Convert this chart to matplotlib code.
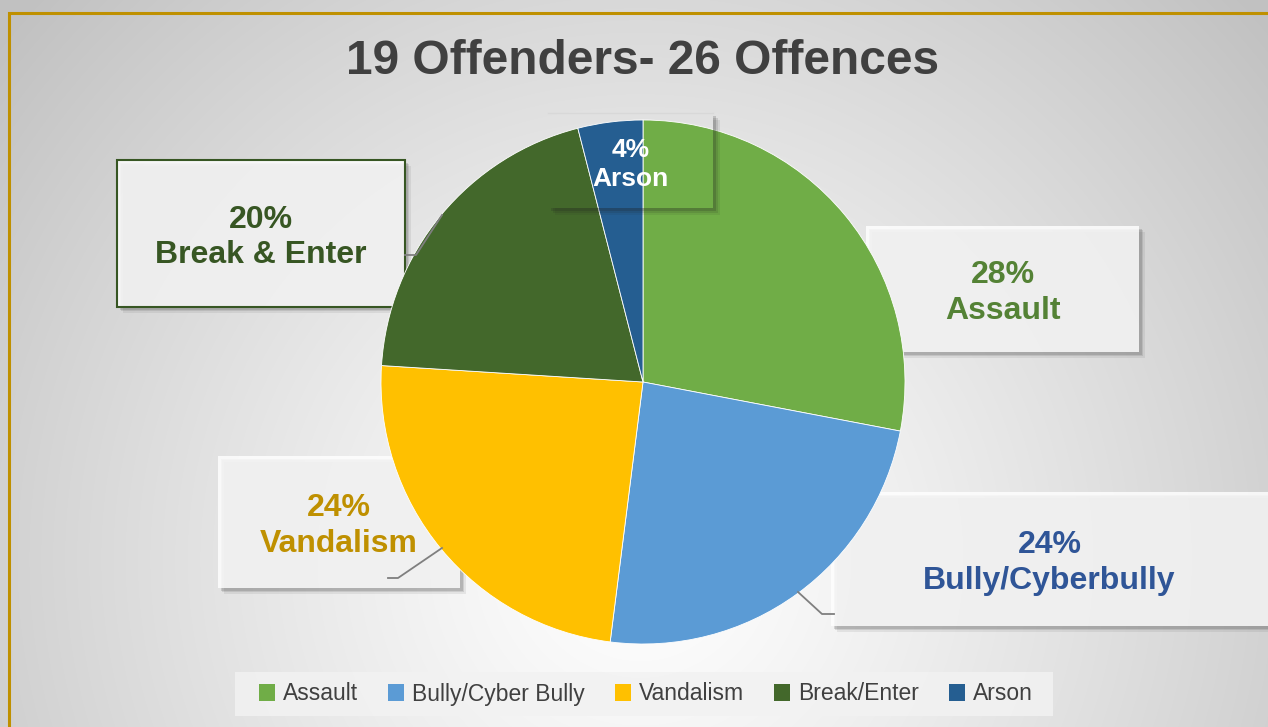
import numpy as np
import matplotlib.pyplot as plt
from matplotlib.patches import Rectangle

categories = ['Assault', 'Bully/Cyber Bully', 'Vandalism', 'Break/Enter', 'Arson']
values = [28, 24, 24, 20, 4]
colors = ['#70AD47', '#5B9BD5', '#FFC000', '#43682B', '#255E91']
box_names = ['Assault', 'Bully/Cyberbully', 'Vandalism', 'Break & Enter', 'Arson']
text_colors = ['#548235', '#2F5597', '#BF9000', '#375623', '#FFFFFF']

W, H = 1268, 727
fig = plt.figure(figsize=(W / 100, H / 100), dpi=100)
ax = fig.add_axes([0, 0, 1, 1])

# background radial gradient
yy, xx = np.mgrid[0:H, 0:W]
d = np.sqrt((xx - 640) ** 2 + ((H - yy) - 560) ** 2) / 820
g = 1.0 - 0.24 * np.clip(d, 0, 1) ** 1.2
ax.imshow(np.dstack([g, g, g]), extent=[0, W, 0, H], origin='lower', zorder=0)

# gold frame
ax.plot([9, 9, W], [0, H - 13, H - 13], color='#BF9000', lw=2.2, zorder=1,
        solid_capstyle='butt', solid_joinstyle='miter')

ax.text(643, H - 62, '19 Offenders- 26 Offences', ha='center', va='center',
        fontsize=34.5, fontweight='bold', color='#404040', family='Liberation Sans')

# label boxes (x0, y0, x1, y1 in pixel coords from top)
boxes = [(866, 226, 1139, 352), (831, 492, 1275, 626), (218, 456, 460, 588),
         (117, 160, 405, 307), (548, 113, 713, 208)]
for i, (x0, y0, x1, y1) in enumerate(boxes):
    w, h = x1 - x0, y1 - y0
    if i == 4:
        # box sits over the pie: only shadow strips outside it, above the pie
        for k, a in [(7, 0.08), (5, 0.12), (3, 0.18)]:
            ax.add_patch(Rectangle((x1, H - y1 - k), k, h, facecolor='#202020',
                                   edgecolor='none', alpha=a, zorder=4))
            ax.add_patch(Rectangle((x0 + k, H - y1 - k), w - k, k, facecolor='#202020',
                                   edgecolor='none', alpha=a, zorder=4))
        ax.plot([x0, x1], [H - y0, H - y0], color='#d8d8d8', lw=1, zorder=4)
    else:
        for k, a in [(6, 0.10), (4, 0.15), (2.5, 0.2)]:
            ax.add_patch(Rectangle((x0 + k, H - y1 - k), w, h, facecolor='#505050',
                                   edgecolor='none', alpha=a, zorder=1.5))
        ax.add_patch(Rectangle((x0, H - y1), w, h, facecolor='white', alpha=0.82,
                               edgecolor='none', zorder=1.6))
        if i == 3:
            ax.add_patch(Rectangle((x0, H - y1), w, h, facecolor='none',
                                   edgecolor='#375623', lw=1.5, zorder=1.7))
    pct = '%d%%' % round(values[i] / sum(values) * 100)
    fs = 19 if i == 4 else 23
    ax.text((x0 + min(x1, W)) / 2, H - (y0 + y1) / 2 - 4,
            pct + '\n' + box_names[i], ha='center', va='center',
            fontsize=fs, fontweight='bold', color=text_colors[i],
            family='Liberation Sans', linespacing=1.3 if i == 4 else 1.25,
            zorder=7)

cx, cy, r = 643, H - 382, 262
wedges, _ = ax.pie(values, colors=colors, startangle=90, counterclock=False,
                   center=(cx, cy), radius=r, frame=True,
                   wedgeprops=dict(linewidth=0.6, edgecolor='white'))
for wdg in wedges:
    wdg.set_zorder(2)

# leader lines
leaders = [
    [(405, 255), (416, 255), (442, 215)],
    [(388, 578), (398, 578), (442, 548)],
    [(798, 592), (822, 614), (834, 614)],
]
for pts in leaders:
    ax.plot([p[0] for p in pts], [H - p[1] for p in pts], color='#7F7F7F',
            lw=1.3, zorder=3)

# legend
ax.add_patch(Rectangle((235, H - 716), 818, 44, facecolor='#F2F2F2',
                       edgecolor='none', alpha=0.85, zorder=4))
handles = [Rectangle((0, 0), 1, 1, facecolor=c) for c in colors]
leg = ax.legend(handles, categories, loc='center', bbox_to_anchor=(646 / W, 1 - 694 / H),
                ncol=5, frameon=False, handlelength=0.7,
                handleheight=0.7, handletextpad=0.35, columnspacing=1.3,
                prop=dict(family='Liberation Sans', size=16.5))
for t in leg.get_texts():
    t.set_color('#404040')

ax.set_xlim(0, W)
ax.set_ylim(0, H)
ax.set_aspect('equal')
ax.axis('off')

fig.savefig('out.png', dpi=100)
